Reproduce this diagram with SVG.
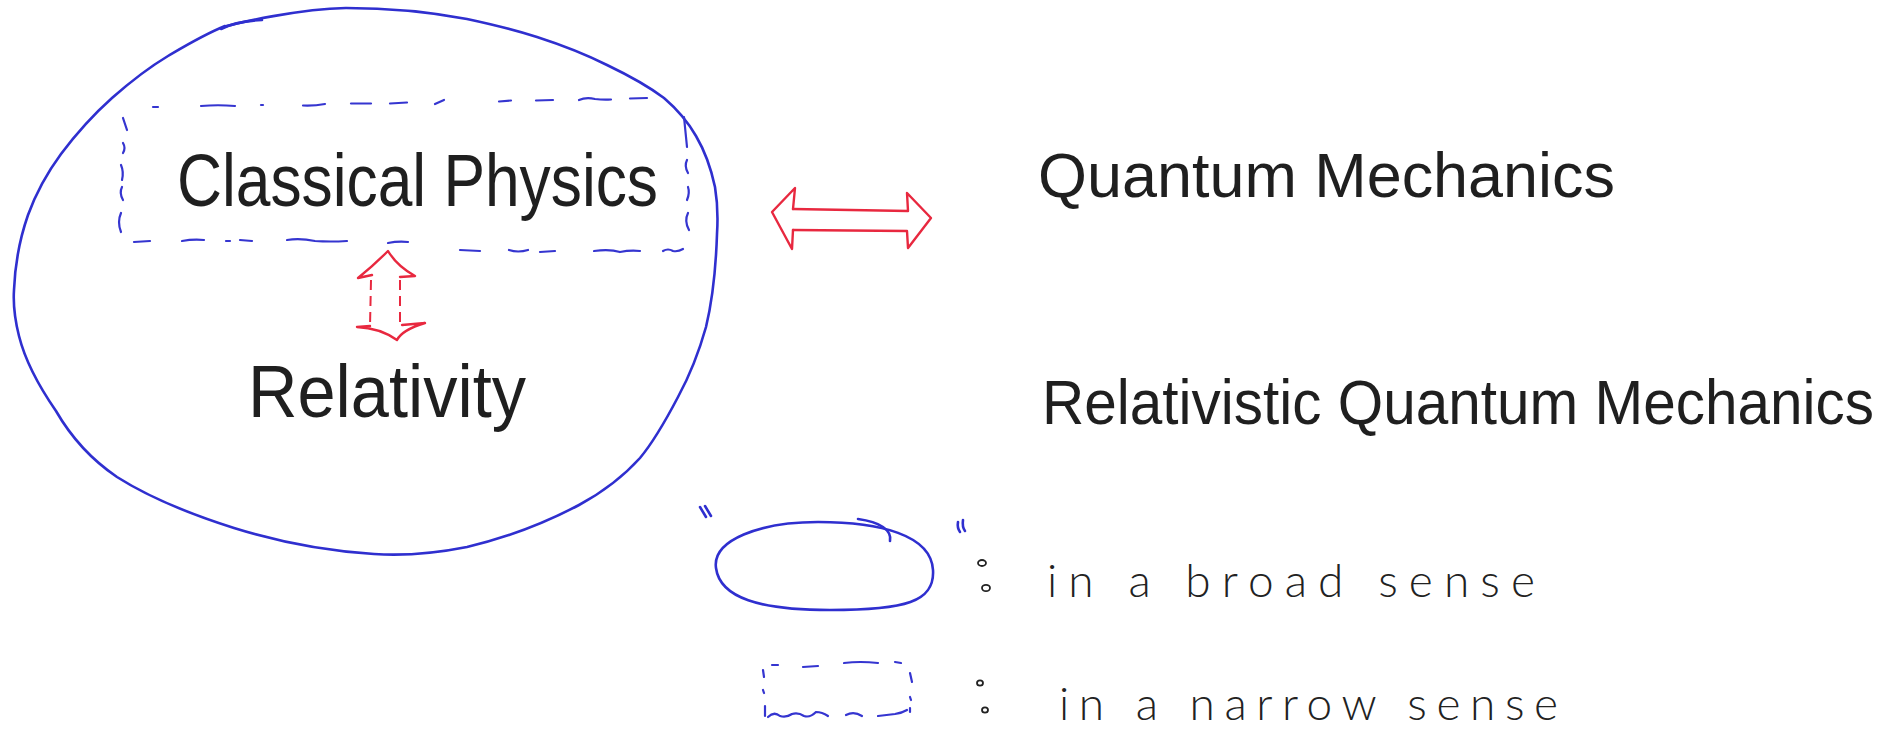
<svg xmlns="http://www.w3.org/2000/svg" width="1898" height="733" viewBox="0 0 1898 733">
<style>
.blue{fill:none;stroke:#2f2fcf;stroke-width:2.6;stroke-linecap:round;stroke-linejoin:round}
.dash{fill:none;stroke:#3535d0;stroke-width:2.2;stroke-linecap:round}
.red{fill:none;stroke:#e8283f;stroke-width:2.4;stroke-linecap:round;stroke-linejoin:round}
.reddash{fill:none;stroke:#e8283f;stroke-width:2;stroke-dasharray:10 6}
.big{font-family:"Liberation Sans",Arial,sans-serif;fill:#1f1f1f}
.small{font-family:"Lato","Liberation Sans",Arial,sans-serif;font-weight:300;fill:#222}
.dot{fill:none;stroke:#222;stroke-width:1.8}
</style>
<rect width="1898" height="733" fill="#fff"/>

<g id="broad-region">
<path class="blue" d="M220,28 C240,22 300,9 346,8 C390,8 430,12 467,19 C495,25 515,30 537,37 C565,46 585,54 607,65 C630,76 648,86 664,98 C678,110 688,122 696,136 C706,153 711,168 715,187 C718,205 718,218 717,234 C716,265 713,298 706,327 C699,352 690,375 678,397 C667,418 655,440 640,458 C622,478 603,492 579,505 C545,523 505,538 467,547 C437,553 405,556 374,554 C327,551 279,542 234,528 C193,515 150,498 117,477 C92,460 71,437 56,411 C38,385 25,360 19,336 C15,320 13,305 14,290 C15,265 20,238 28,215 C36,193 47,173 61,154 C76,134 93,115 112,98 C129,83 148,68 168,56 C185,46 203,35 225,26"/>
<path class="blue" d="M221,29 Q236,21 262,20"/>
</g>

<g id="classical-physics">
<g class="dash">
<path d="M153,107 L158,107"/>
<path d="M201,106 Q218,104.5 235,106"/>
<path d="M261,105 L263,105"/>
<path d="M303,105.5 Q314,106 325,104"/>
<path d="M351,103.5 L371,103.5"/>
<path d="M390,103.5 L407,102.5"/>
<path d="M435,104 L444,100"/>
<path d="M499,101.5 L511,100.5"/>
<path d="M536,100.5 L553,100"/>
<path d="M579,100 Q586,97 595,99 Q603,100 611,99.5"/>
<path d="M630,98.5 L647,98"/>
<path d="M123,118 L127,130"/>
<path d="M123,143 Q126,148 123,153"/>
<path d="M121,165 Q124,172 122,180"/>
<path d="M122,187 Q119,193 123,200"/>
<path d="M121,213 Q117,222 121,232"/>
<path d="M684,117 L687,147"/>
<path d="M687,160 Q684,166 688,173"/>
<path d="M688,187 Q690,193 687,200"/>
<path d="M688,213 Q684,221 689,230"/>
<path d="M134,242 L150,241"/>
<path d="M182,241 Q193,239 204,240"/>
<path d="M226,241 L230,241 M240,240 L252,241"/>
<path d="M287,240 Q300,238 315,241 Q330,242 347,241"/>
<path d="M388,243 Q398,241 408,242"/>
<path d="M460,250 L480,251"/>
<path d="M509,250 Q518,253 528,250"/>
<path d="M540,252 L555,251"/>
<path d="M594,251 Q610,249 620,252 Q630,250 640,251"/>
<path d="M663,251 Q668,248 673,251 Q678,252 683,249"/>
</g>
<text class="big" x="177" y="206" font-size="74" textLength="481" lengthAdjust="spacingAndGlyphs">Classical Physics</text>
</g>

<g id="relativity">
<text class="big" x="248" y="417" font-size="74" textLength="278" lengthAdjust="spacingAndGlyphs">Relativity</text>
</g>

<g id="quantum-mechanics">
<text class="big" x="1038" y="197" font-size="63" textLength="577" lengthAdjust="spacingAndGlyphs">Quantum Mechanics</text>
</g>

<g id="relativistic-quantum-mechanics">
<text class="big" x="1042" y="424" font-size="58" textLength="832" lengthAdjust="spacingAndGlyphs" transform="translate(1042 424) scale(1 1.1) translate(-1042 -424)">Relativistic Quantum Mechanics</text>
</g>

<g id="connectors">
<g id="arrow-classical-quantum">
<path class="red" d="M793,209 L795,188 L772,212 L792,249 L793,230"/>
<path class="red" d="M793,209 L908,211 L907,193 L931,218 L908,248 L907,231 L793,230"/>
</g>
<g id="arrow-classical-relativity">
<path class="red" d="M372,275 L358,278 Q373,266 388,251 Q397,266 415,276 L400,277"/>
<path class="reddash" d="M371,280 L370,326"/>
<path class="reddash" d="M400,280 L400,324"/>
<path class="red" d="M370,326 L357,327 Q380,328 397,340 Q402,330 425,323 L402,325"/>
</g>
</g>

<g id="legend-broad">
<path class="blue" d="M716,568 C712,540 760,522 818,522 C880,522 931,535 933,570 C935,602 905,610 830,610 C760,610 720,598 716,568 Z"/>
<path class="blue" d="M858,519 C880,522 892,530 890,541"/>
<path class="blue" d="M700,507 L706,517 M705,506 L711,516"/>
<path class="blue" d="M958,522 Q957,528 960,532 M963,520 Q962,527 965,531"/>
<ellipse class="dot" cx="982" cy="563" rx="4" ry="3"/>
<ellipse class="dot" cx="986" cy="588" rx="4" ry="3.2"/>
<text class="small" x="1047" y="597" font-size="46" textLength="488">in a broad sense</text>
</g>

<g id="legend-narrow">
<g class="dash">
<path d="M772,665 L778,665"/>
<path d="M803,667 L818,666"/>
<path d="M844,663 Q860,661 878,663"/>
<path d="M895,662 L901,663"/>
<path d="M763,670 L764,677"/>
<path d="M763,690 L764,693"/>
<path d="M765,706 L765,716"/>
<path d="M910,673 L912,682"/>
<path d="M910,697 L911,700"/>
<path d="M910,708 L910,712"/>
<path d="M768,717 Q774,711 780,716 Q786,718 792,714 Q798,712 804,716 Q810,718 816,712 Q822,712 828,716 M846,715 Q854,711 862,716 M878,716 L895,714 Q902,713 907,710"/>
</g>
<ellipse class="dot" cx="980" cy="683" rx="3" ry="2.6"/>
<ellipse class="dot" cx="985" cy="710" rx="3" ry="2.6"/>
<text class="small" x="1059" y="720" font-size="46" textLength="499">in a narrow sense</text>
</g>
</svg>
